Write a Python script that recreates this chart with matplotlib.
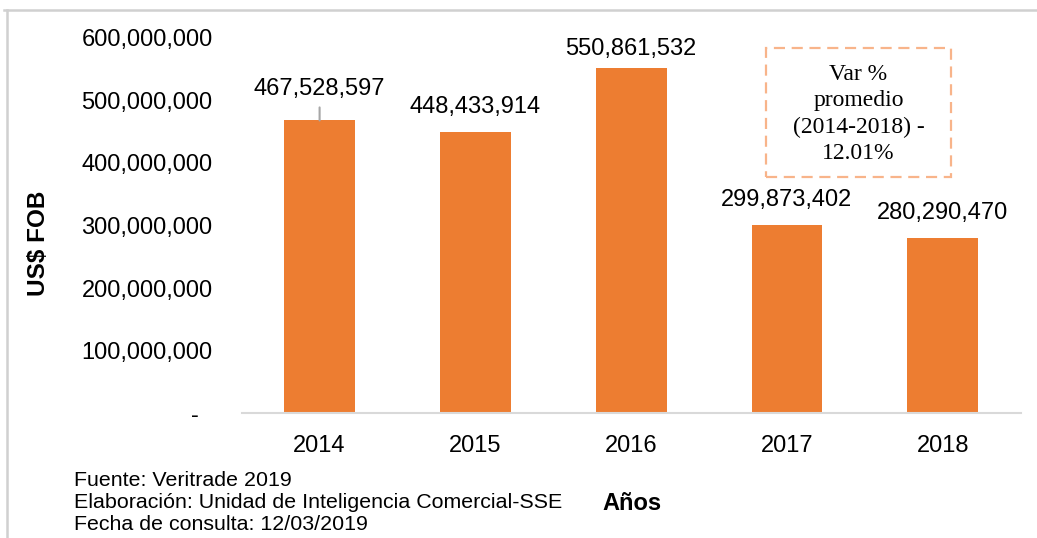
import matplotlib
matplotlib.use("Agg")
import matplotlib.pyplot as plt
from matplotlib.lines import Line2D
from matplotlib.patches import Rectangle
import matplotlib.transforms as mtransforms

# ---- data ----
years = ["2014", "2015", "2016", "2017", "2018"]
values = [467528597, 448433914, 550861532, 299873402, 280290470]
yticks = [0, 100000000, 200000000, 300000000, 400000000, 500000000, 600000000]
ytick_labels = ["-", "100,000,000", "200,000,000", "300,000,000", "400,000,000",
                "500,000,000", "600,000,000"]
note_lines = ["Var %", "promedio", "(2014-2018) -", "12.01%"]
footnotes = ["Fuente: Veritrade 2019",
             "Elaboración: Unidad de Inteligencia Comercial-SSE",
             "Fecha de consulta: 12/03/2019"]

BAR = "#ED7D31"
W, H = 1037, 538
plt.rcParams['font.family'] = ['Liberation Sans', 'DejaVu Sans']

fig = plt.figure(figsize=(W / 100, H / 100), dpi=100)
ax = fig.add_axes([241.7 / W, 1 - 413.3 / H, (1020.7 - 241.7) / W, (413.3 - 37.5) / H])

x = range(len(years))
ax.bar(x, values, width=0.455, color=BAR, zorder=2)
ax.set_xlim(-0.5, len(years) - 0.5)
ax.set_ylim(0, 600000000)
ax.set_xticks(list(x))
ax.set_xticklabels(years, fontsize=17)
ax.set_yticks(yticks)
ax.set_yticklabels(ytick_labels, fontsize=17)
ax.tick_params(axis='x', length=0, pad=15.5)
ax.tick_params(axis='y', length=0, pad=21)
for s in ["top", "right", "left"]:
    ax.spines[s].set_visible(False)
ax.spines["bottom"].set_color("#D9D9D9")
ax.spines["bottom"].set_linewidth(1.5)

# shift the zero "-" label to the left like Excel accounting format
zero_lab = ax.get_yticklabels()[0]
zero_lab.set_transform(zero_lab.get_transform() +
                       mtransforms.ScaledTranslation(-13.5 / 100, 0, fig.dpi_scale_trans))

# value labels (2014 label moved up with a leader line; 2016 kept inside the plot)
for i, v in enumerate(values):
    lab = f"{v:,}"
    if i == 0:
        ax.annotate(lab, xy=(i, v), xytext=(0, 31), textcoords='offset pixels',
                    ha='center', va='center', fontsize=17,
                    arrowprops=dict(arrowstyle='-', color='#A6A6A6', lw=1.5,
                                    relpos=(0.5, 0), shrinkA=3, shrinkB=0))
    else:
        off = 19 if i == 2 else 25
        ax.annotate(lab, xy=(i, v), xytext=(0, off), textcoords='offset pixels',
                    ha='center', va='center', fontsize=17)

# dashed note box
box = Rectangle((766 / W, 1 - 177.3 / H), (950.7 - 766) / W, (177.3 - 48.3) / H,
                transform=fig.transFigure, fill=False, edgecolor="#F8B48A",
                linestyle=(0, (5, 3)), linewidth=1.6)
fig.add_artist(box)
fig.text(858.5 / W, 1 - 114 / H, "\n".join(note_lines), ha='center', va='center',
         fontsize=17, family=['Liberation Serif', 'DejaVu Serif'], linespacing=1.32)

# axis titles
fig.text(38.5 / W, 1 - 243 / H, "US$ FOB", rotation=90, ha='center', va='center',
         fontsize=17.5, fontweight='bold')
fig.text(631.5 / W, 1 - 503 / H, "Años", ha='center', va='center',
         fontsize=17, fontweight='bold')

# footnotes
for k, t in enumerate(footnotes):
    fig.text(74 / W, 1 - (481 + 22 * k) / H, t, ha='left', va='center', fontsize=15.4)

# outer frame (top and left only, as in the reference)
fig.add_artist(Line2D([4 / W, 1], [1 - 10 / H, 1 - 10 / H], transform=fig.transFigure,
                      color="#D0D0D0", lw=1.8))
fig.add_artist(Line2D([7 / W, 7 / W], [0, 1 - 10 / H], transform=fig.transFigure,
                      color="#D0D0D0", lw=1.8))

fig.savefig("out.png", dpi=100, facecolor="white")
